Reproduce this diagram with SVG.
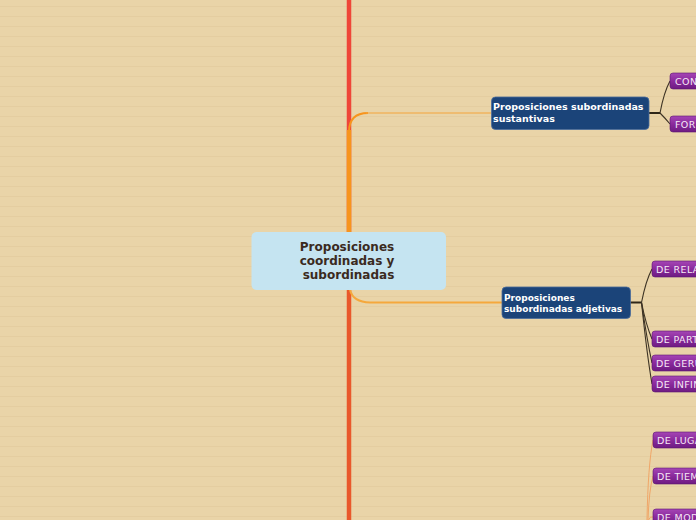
<svg xmlns="http://www.w3.org/2000/svg" width="696" height="520" viewBox="0 0 696 520">
<defs>
<pattern id="ruled" width="696" height="10" patternUnits="userSpaceOnUse" y="0">
<rect width="696" height="10" fill="#e9d4a8"/>
<rect y="6" width="696" height="1" fill="#e4cda0"/>
</pattern>
<linearGradient id="purple" x1="0" y1="0" x2="0" y2="1">
<stop offset="0" stop-color="#a546b5"/>
<stop offset="0.5" stop-color="#8a2a9c"/>
<stop offset="1" stop-color="#6e1b82"/>
</linearGradient>
<style>
.center{fill:#c5e4f1}
.ctext{font-family:"DejaVu Sans",sans-serif;font-weight:bold;font-size:12px;fill:#3b2a1e;text-anchor:middle}
.blue{fill:#1b4479;stroke:#4a6c9c;stroke-width:0.8}
.btext{font-family:"DejaVu Sans",sans-serif;font-weight:bold;fill:#ffffff}
.pnode{fill:url(#purple);stroke:#5c1570;stroke-width:0.6}
.ptext{font-family:"DejaVu Sans",sans-serif;font-size:9.5px;letter-spacing:0.4px;fill:#f6e8f6}
.dark{fill:none;stroke:#3d3324;stroke-width:1.1}
.darkh{fill:none;stroke:#2e2618;stroke-width:2}
.thin{fill:none;stroke:#f0a668;stroke-width:1}
</style>
</defs>
<rect width="696" height="520" fill="url(#ruled)"/>
<g id="connectors">
<line x1="349" y1="0" x2="349" y2="232" stroke="#ef4638" stroke-width="4.5"/>
<line x1="349" y1="290" x2="349" y2="520" stroke="#e9582b" stroke-width="4.5"/>
<path d="M349 232 L349 130" stroke="#f7941d" stroke-width="4.5" fill="none"/>
<path d="M349 132 Q349 113 368 113" stroke="#f7941d" stroke-width="2" fill="none"/>
<path d="M366 113 L491 113" stroke="#f4a43a" stroke-width="1" fill="none"/>
<path d="M350 290 Q353 302 370 302.5 L502 302.5" stroke="#f5a83c" stroke-width="2" fill="none"/>
<line class="darkh" x1="649" y1="113" x2="660" y2="113"/>
<path class="dark" d="M660 113 Q664 92 670 81"/>
<path class="dark" d="M660 113 Q665 118 670 124"/>
<line class="darkh" x1="630" y1="302.5" x2="641.5" y2="302.5"/>
<path class="dark" d="M641.5 302.5 Q646 280 652 269"/>
<path class="dark" d="M641.5 302.5 Q646 325 652 339"/>
<path class="dark" d="M641.5 302.5 Q647 340 652 363"/>
<path class="dark" d="M641.5 302.5 Q647 355 652 384"/>
<path class="thin" d="M647 520 Q648 465 653 440"/>
<path class="thin" d="M648 520 Q649 490 653 476"/>
<path class="thin" d="M648.5 520 Q650 516 653 517"/>
</g>
<g id="central">
<rect class="center" x="251.5" y="232" width="194.5" height="58" rx="5"/>
<text class="ctext" x="347" y="251">Proposiciones</text>
<text class="ctext" x="347" y="265">coordinadas y</text>
<text class="ctext" x="348.5" y="279">subordinadas</text>
</g>
<g id="sustantivas">
<rect class="blue" x="491.5" y="97" width="157.5" height="32.5" rx="4"/>
<text class="btext" font-size="9.5" x="493" y="110">Proposiciones subordinadas</text>
<text class="btext" font-size="9.5" x="493" y="122">sustantivas</text>
</g>
<g id="adjetivas">
<rect class="blue" x="502" y="287" width="128.5" height="31.5" rx="4"/>
<text class="btext" font-size="9" x="504" y="300.5">Proposiciones</text>
<text class="btext" font-size="9" x="504" y="312">subordinadas adjetivas</text>
</g>
<g id="con">
<rect class="pnode" x="670" y="73" width="40" height="16" rx="3"/>
<text class="ptext" x="675" y="85">CON</text>
</g>
<g id="form">
<rect class="pnode" x="670" y="116" width="40" height="16" rx="3"/>
<text class="ptext" x="675" y="128">FORM</text>
</g>
<g id="relativo">
<rect class="pnode" x="652" y="261" width="60" height="16" rx="3"/>
<text class="ptext" x="656" y="273">DE RELATIVO</text>
</g>
<g id="participio">
<rect class="pnode" x="652" y="331" width="60" height="16" rx="3"/>
<text class="ptext" x="656" y="343">DE PARTICIPIO</text>
</g>
<g id="gerundio">
<rect class="pnode" x="652" y="355" width="60" height="16" rx="3"/>
<text class="ptext" x="656" y="367">DE GERUNDIO</text>
</g>
<g id="infinitivo">
<rect class="pnode" x="652" y="376" width="60" height="16" rx="3"/>
<text class="ptext" x="656" y="388">DE INFINITIVO</text>
</g>
<g id="lugar">
<rect class="pnode" x="653" y="432" width="60" height="16" rx="3"/>
<text class="ptext" x="657" y="444">DE LUGAR</text>
</g>
<g id="tiempo">
<rect class="pnode" x="653" y="468" width="60" height="16" rx="3"/>
<text class="ptext" x="657" y="480">DE TIEMPO</text>
</g>
<g id="modo">
<rect class="pnode" x="653" y="509" width="60" height="16" rx="3"/>
<text class="ptext" x="657" y="521">DE MODO</text>
</g>
</svg>
